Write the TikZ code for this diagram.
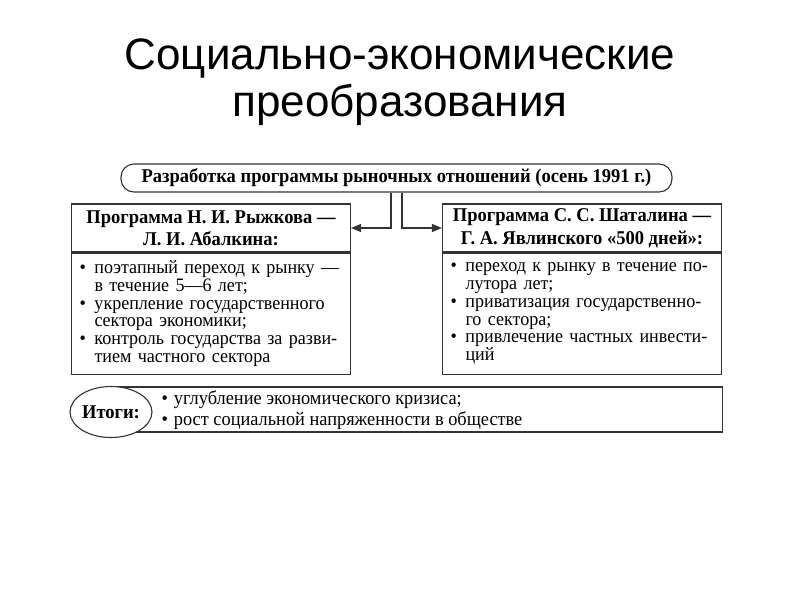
\documentclass[tikz,border=0pt]{standalone}
\usepackage{fontspec}
\setmainfont{Liberation Serif}[FakeStretch=0.95]
\newfontfamily\slidefont{Liberation Sans}
\usetikzlibrary{positioning,arrows.meta,shapes.geometric}

% one bullet item: a justified first line and a plain second line
\newcommand{\pitem}[2]{\makebox[15pt][l]{\textbullet}\makebox[\dimexpr\hsize-15pt\relax][s]{#1}\\\hspace*{15pt}#2}

\tikzset{
  boxline/.style={draw=black!80, line width=1.1pt},
  planbox/.style={boxline, rounded corners=13pt, minimum width=551pt, minimum height=28pt,
    inner ysep=0pt, font=\bfseries\fontsize{19.5}{20}\selectfont},
  headbox/.style={boxline, minimum width=279pt, minimum height=48pt,
    inner sep=0pt, align=center, font=\bfseries\fontsize{19.5}{22.5}\selectfont},
  listbox/.style={boxline, minimum width=279pt, minimum height=121pt, text width=263pt,
    inner xsep=8pt, inner ysep=0pt, align=left, font=\fontsize{19}{17.8}\selectfont},
  link/.style={draw=black!80, line width=1.1pt, -{Triangle[length=10pt,width=8pt]}},
}

\begin{document}
\begin{tikzpicture}[x=1pt, y=-1pt]
\useasboundingbox[fill=white] (0,0) rectangle (800,600);

\node[font=\slidefont\fontsize{44}{47}\selectfont, align=center] (title) at (400,82)
  {Социально-экономические\\преобразования};

\node[planbox] (plan) at (396.5,178) {Разработка программы рыночных отношений (осень 1991 г.)};

\node[headbox] (ryzh) at (211,228) {Программа Н. И. Рыжкова —\\Л. И. Абалкина:};
\node[listbox, below=0pt of ryzh] (ryzhlist) {%
  \pitem{поэтапный переход к рынку —}{в течение 5—6 лет;}\\
  \pitem{укрепление государственного}{сектора экономики;}\\
  \pitem{контроль государства за разви-}{тием частного сектора}};

\node[headbox] (shatal) at (582,228) {Программа С. С. Шаталина —\\Г. А. Явлинского «500 дней»:};
\node[listbox, below=0pt of shatal] (shatallist) {%
  \pitem{переход к рынку в течение по-}{лутора лет;}\\
  \pitem{приватизация государственно-}{го сектора;}\\
  \pitem{привлечение частных инвести-}{ций}};

\draw[link] ([xshift=-5.5pt]plan.south) |- (ryzh.east);
\draw[link] ([xshift=5.5pt]plan.south) |- (shatal.west);

% results
\node[boxline, minimum width=611pt, minimum height=45pt, anchor=west] (itogframe) at (111,409.5) {};
\node[boxline, ellipse, fill=white, minimum width=82pt, minimum height=51pt, inner sep=0pt,
  font=\bfseries\fontsize{19.5}{20}\selectfont] (itogi) at (111,412) {Итоги:};
\node[anchor=west, align=left, inner ysep=0pt, font=\fontsize{19.3}{21}\selectfont] (itoglist) at (158,410)
  {\textbullet\hspace{6pt}углубление экономического кризиса;\\
   \textbullet\hspace{6pt}рост социальной напряженности в обществе};
\end{tikzpicture}
\end{document}
